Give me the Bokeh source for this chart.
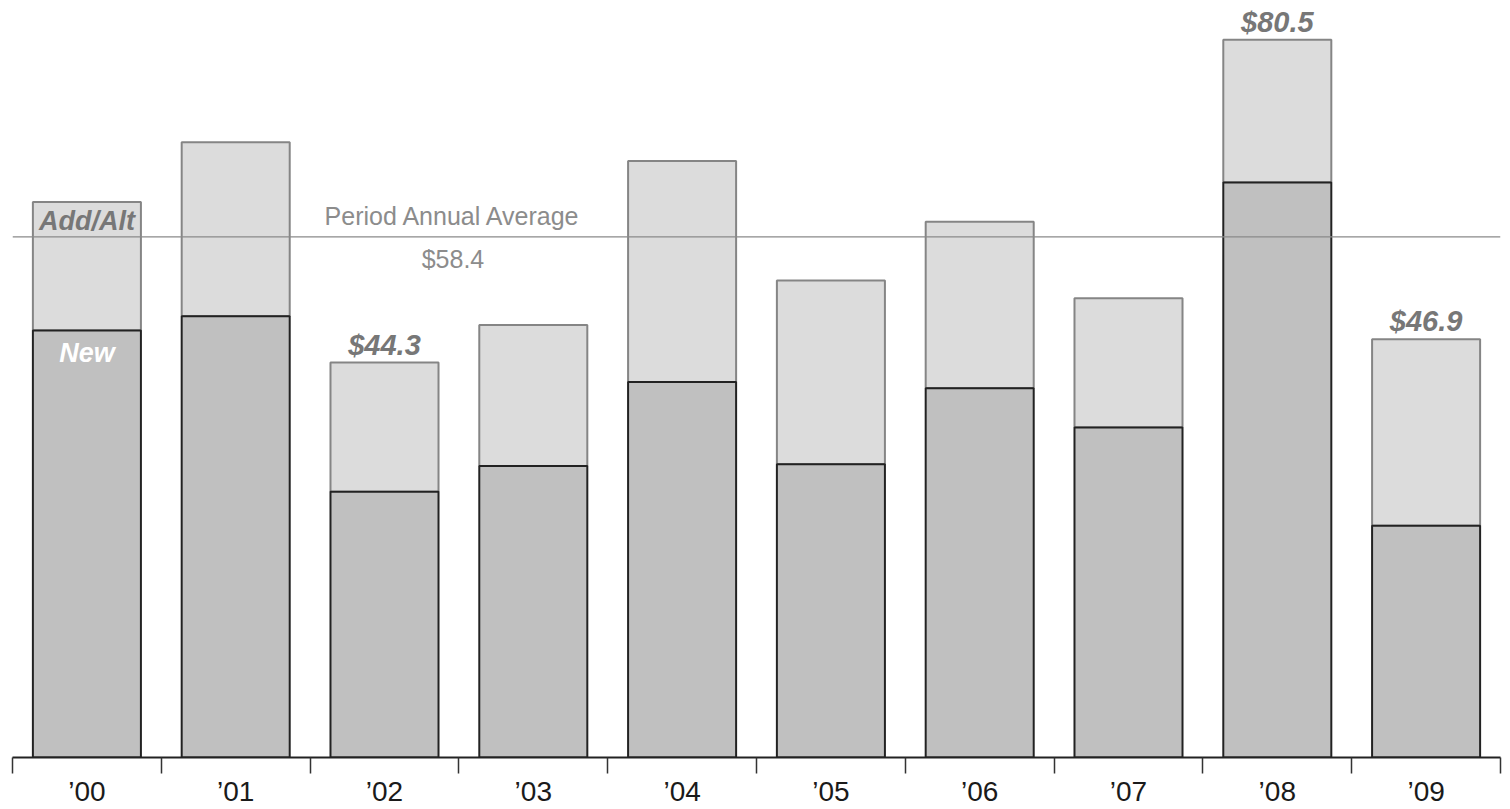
from bokeh.plotting import figure
from bokeh.models import ColumnDataSource, Range1d, FixedTicker, Span
from bokeh.core.properties import value
from bokeh.embed import file_html
from bokeh.resources import INLINE

years = ["’00", "’01", "’02", "’03", "’04", "’05", "’06", "’07", "’08", "’09"]
new_vals = [47.9, 49.5, 29.8, 32.7, 42.1, 32.9, 41.4, 37.0, 64.5, 26.0]
total_vals = [62.3, 69.0, 44.3, 48.5, 66.9, 53.5, 60.1, 51.5, 80.5, 46.9]
labeled_years = ["’02", "’08", "’09"]
average = 58.4

xs = [i + 0.5 for i in range(len(years))]
FONT = "Liberation Sans"

p = figure(width=1510, height=809, output_backend="svg", toolbar_location=None,
           x_range=Range1d(0, len(years)), y_range=Range1d(0, 84.9),
           min_border_left=12, min_border_right=10, min_border_top=0,
           min_border_bottom=0)
p.outline_line_color = None
p.xgrid.visible = False
p.ygrid.visible = False
p.yaxis.visible = False
p.background_fill_color = "white"
p.border_fill_color = "white"

src = ColumnDataSource(dict(x=xs, new=new_vals, total=total_vals))
p.vbar(x="x", width=0.726, bottom="new", top="total", source=src,
       fill_color="#dcdcdc", line_color="#858585", line_width=2)
p.vbar(x="x", width=0.726, bottom=0, top="new", source=src,
       fill_color="#c0c0c0", line_color="#222222", line_width=2)

p.add_layout(Span(location=average, dimension="width", line_color="#8a8a8a", line_width=1.2))

ax = p.xaxis[0]
ax.ticker = FixedTicker(ticks=xs, minor_ticks=list(range(len(years) + 1)))
ax.major_label_overrides = {x: y for x, y in zip(xs, years)}
ax.major_tick_line_color = None
ax.major_tick_out = 0
ax.major_tick_in = 0
ax.minor_tick_out = 16
ax.minor_tick_in = 0
ax.minor_tick_line_color = "#333333"
ax.minor_tick_line_width = 1.5
ax.axis_line_color = "#222222"
ax.axis_line_width = 2
ax.major_label_text_font = FONT
ax.major_label_text_font_size = "28px"
ax.major_label_text_color = "#1a1a1a"
ax.major_label_standoff = 2

# value labels
lx = [xs[years.index(y)] for y in labeled_years]
ly = [total_vals[years.index(y)] for y in labeled_years]
lt = [f"${v:.1f}" for v in ly]
p.text(x=lx, y=ly, text=lt, text_font=value(FONT), text_font_size="29px",
       text_font_style="bold italic", text_color="#777777",
       text_align="center", text_baseline="bottom", y_offset=-2)

# series labels on first bar
p.text(x=[xs[0]], y=[total_vals[0]], text=["Add/Alt"], text_font=value(FONT),
       text_font_size="27px", text_font_style="bold italic", text_color="#777777",
       text_align="center", text_baseline="middle", y_offset=19)
p.text(x=[xs[0]], y=[new_vals[0]], text=["New"], text_font=value(FONT),
       text_font_size="27px", text_font_style="bold italic", text_color="white",
       text_align="center", text_baseline="middle", y_offset=23)

# average labels
p.text(x=[2.96], y=[average], text=["Period Annual Average"], text_font=value(FONT),
       text_font_size="25px", text_color="#8c8c8c",
       text_align="center", text_baseline="middle", y_offset=-21)
p.text(x=[2.96], y=[average], text=[f"${average:.1f}"], text_font=value(FONT),
       text_font_size="25px", text_color="#8c8c8c",
       text_align="center", text_baseline="middle", y_offset=22)

open("out.html", "w").write(file_html(p, INLINE))
